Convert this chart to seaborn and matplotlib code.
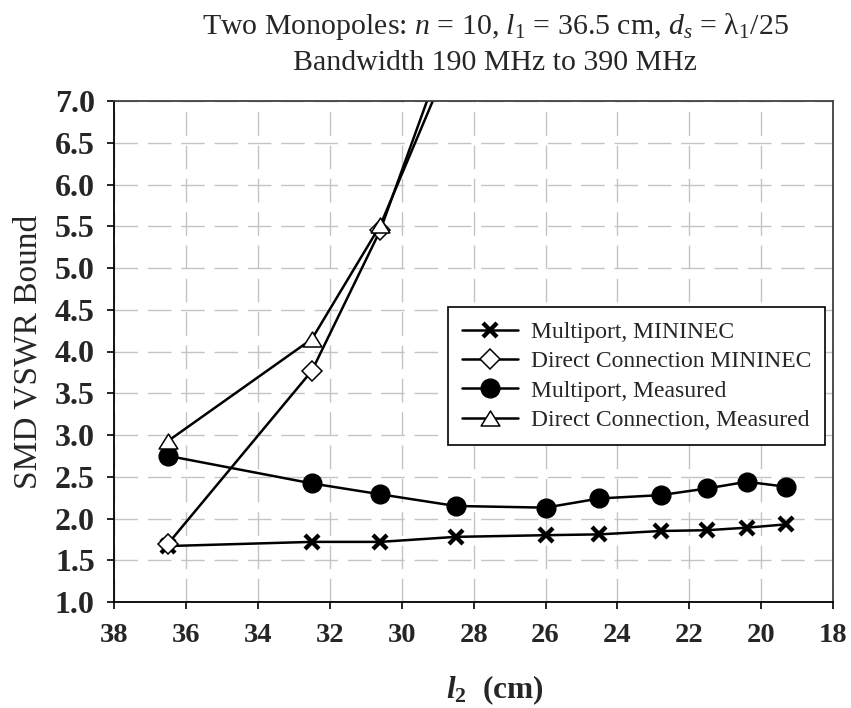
import matplotlib
matplotlib.use("Agg")
import matplotlib.pyplot as plt
import pandas as pd
import seaborn as sns
from matplotlib.path import Path

# --- data -------------------------------------------------------------
l2_cm = [36.5, 32.5, 30.6, 28.5, 26.0, 24.5, 22.8, 21.5, 20.4, 19.3]
multiport_mininec = [1.67, 1.72, 1.72, 1.78, 1.80, 1.81, 1.85, 1.86, 1.89, 1.93]
multiport_measured = [2.75, 2.42, 2.29, 2.15, 2.13, 2.24, 2.28, 2.36, 2.44, 2.38]

direct_l2_cm = [36.5, 32.5, 30.6, 28.5]
direct_mininec = [1.70, 3.77, 5.45, 7.95]
direct_measured = [2.93, 4.15, 5.51, 7.65]

series_labels = [
    "Multiport, MININEC",
    "Direct Connection MININEC",
    "Multiport, Measured",
    "Direct Connection, Measured",
]
x_ticks = [38, 36, 34, 32, 30, 28, 26, 24, 22, 20, 18]
y_ticks = [1.0, 1.5, 2.0, 2.5, 3.0, 3.5, 4.0, 4.5, 5.0, 5.5, 6.0, 6.5, 7.0]

# --- style --------------------------------------------------------------
sns.set_style("ticks")
plt.rcParams["font.family"] = ["Liberation Serif", "DejaVu Serif"]
plt.rcParams["mathtext.fontset"] = "custom"
plt.rcParams["mathtext.rm"] = "Liberation Serif"
plt.rcParams["mathtext.it"] = "Liberation Serif:italic"
plt.rcParams["mathtext.bf"] = "Liberation Serif:bold"
plt.rcParams["mathtext.bfit"] = "Liberation Serif:italic:bold"

fig = plt.figure(figsize=(8.51, 7.08), dpi=100)
ax = fig.add_axes([114.3 / 851, 1 - 602 / 708, (833 - 114.3) / 851, (602 - 101) / 708])

frames = [
    pd.DataFrame({"l2": l2_cm, "vswr": multiport_mininec}),
    pd.DataFrame({"l2": direct_l2_cm, "vswr": direct_mininec}),
    pd.DataFrame({"l2": l2_cm, "vswr": multiport_measured}),
    pd.DataFrame({"l2": direct_l2_cm, "vswr": direct_measured}),
]

triangle = Path([(0, 0.8), (-1, -0.8), (1, -0.8), (0, 0.8)], closed=True)
marker_styles = [
    dict(marker="x", markersize=10.5, markeredgewidth=3.1, markeredgecolor="black"),
    dict(marker="D", markersize=10, markeredgewidth=1.1, markerfacecolor="white",
         markeredgecolor="black"),
    dict(marker="o", markersize=13.5, markeredgewidth=1.0, markerfacecolor="black",
         markeredgecolor="black"),
    dict(marker=triangle, markersize=13.5, markeredgewidth=1.1, markerfacecolor="white",
         markeredgecolor="black"),
]

for df, label, style in zip(frames, series_labels, marker_styles):
    sns.lineplot(data=df, x="l2", y="vswr", ax=ax, color="black", linewidth=1.8,
                 sort=False, label=label, estimator=None, **style)

# --- axes ---------------------------------------------------------------
ax.set_xlim(38, 18)
ax.set_ylim(1.0, 7.0)
ax.set_xticks(x_ticks)
ax.set_xticklabels([f"{t:d}" for t in x_ticks], fontweight="bold", fontsize=20.5)
ax.set_yticks(y_ticks)
ax.set_yticklabels([f"{t:.1f}" for t in y_ticks], fontweight="bold", fontsize=23)
ax.tick_params(axis="both", direction="out", length=5, width=1.2, color="black")
ax.tick_params(axis="x", pad=10)
ax.tick_params(axis="y", pad=9)
ax.set_xlabel("")
ax.set_ylabel("")

ax.grid(True, color="#c4c4c4", linestyle=(0, (17, 7)), linewidth=1.0)
ax.set_axisbelow(True)
for side in ["left", "bottom"]:
    ax.spines[side].set_color("black")
    ax.spines[side].set_linewidth(1.3)
for side in ["top", "right"]:
    ax.spines[side].set_visible(True)
    ax.spines[side].set_color("#404040")
    ax.spines[side].set_linewidth(1.3)

leg = ax.legend(loc="lower left", bbox_to_anchor=(448 / 851, 1 - 445 / 708),
                bbox_transform=fig.transFigure, borderaxespad=0, fontsize=17,
                frameon=True, fancybox=False, framealpha=1, edgecolor="black",
                handlelength=2.35, handletextpad=0.55, borderpad=0.6,
                labelspacing=0.33)
leg.get_frame().set_linewidth(1.2)

# --- titles and axis labels --------------------------------------------
fig.text(495 / 851, 1 - 27 / 708,
         r"Two Monopoles: $n$ = 10, $l_1$ = 36.5 cm, $d_s$ = λ$_1$/25",
         ha="center", va="center", fontsize=21.5)
fig.text(495 / 851, 1 - 63 / 708, "Bandwidth 190 MHz to 390 MHz",
         ha="center", va="center", fontsize=21.5)
fig.text(28 / 851, 1 - 352 / 708, "SMD VSWR Bound", rotation=90,
         ha="center", va="center", fontsize=24)
fig.text(495 / 851, 1 - 690 / 708, r"$\mathbfit{l}_{\mathbf{2}}$  (cm)",
         ha="center", va="center", fontsize=22.5, fontweight="bold")

fig.savefig("out.png", dpi=100)
